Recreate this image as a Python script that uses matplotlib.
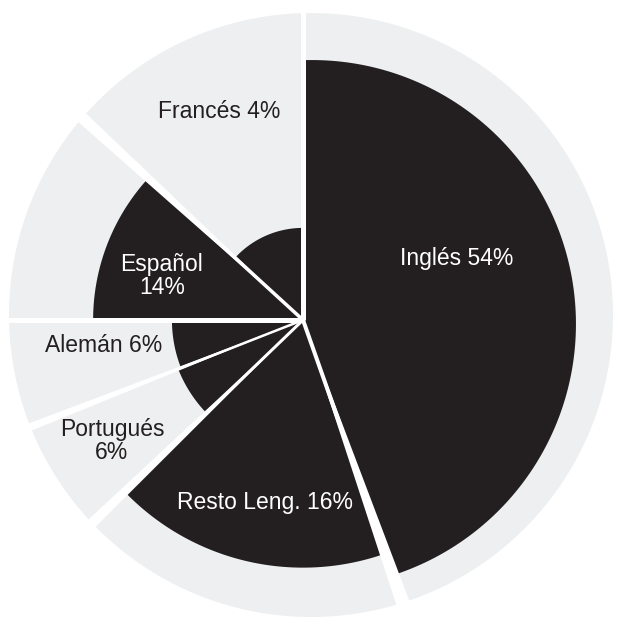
import numpy as np
import matplotlib
matplotlib.use("Agg")
import matplotlib.pyplot as plt
from matplotlib.patches import Polygon, Wedge

# slices, clockwise from 12 o'clock
languages = ["Inglés", "Resto Leng.", "Portugués", "Alemán", "Español", "Francés"]
percent = [54, 16, 6, 6, 14, 4]
# angular share of the circle (%)
share = [44.6, 18.2, 6.25, 5.95, 11.8, 13.2]
# depth of the dark inner wedge, as a fraction of the full radius
depth = [0.874, 0.82, 0.444, 0.434, 0.695, 0.305]

LIGHT = "#eeeff0"
DARK = "#231f20"

W, H = 618, 624
cx, cy = 303, H - 320          # where all slices meet
R = 302
ring_c = (311, H - 315)        # outer rim is drawn a bit off the hub
# arc centre shift for the dark part of each slice (px, y up)
dark_shift = [(9, -4), (0, 0), (0, 0), (0, 0), (0, 0), (0, 0)]

# label layout (pixel positions from top-left), two-line flag
label_pos = [(457, 258), (265, 502), (112, 441), (104, 345), (162, 276), (219, 112)]
two_lines = [False, False, True, False, True, False]

# separators between neighbouring slices: (angular gap in deg, base width in px)
gap_style = [(2.6, 4), (2.0, 3), (1.5, 2.5), (0.0, 5), (2.2, 3.5), (0.0, 5)]


def arc_wedge(t1, t2, centre, radius):
    # wedge from the hub whose outer edge follows a circle around `centre`
    th = np.deg2rad(np.linspace(t1, t2, 200))
    ox, oy = centre[0] - cx, centre[1] - cy
    pts = [(cx, cy)]
    for t in th:
        ux, uy = np.cos(t), np.sin(t)
        p = ux * ox + uy * oy
        dist = p + np.sqrt(radius ** 2 - (ox ** 2 + oy ** 2) + p ** 2)
        pts.append((cx + dist * ux, cy + dist * uy))
    return np.array(pts)


fig = plt.figure(figsize=(W / 100, H / 100), dpi=100)
ax = fig.add_axes([0, 0, 1, 1])
ax.set_xlim(0, W)
ax.set_ylim(0, H)
ax.axis("off")

start = 90.0
bounds = []
for name, p, s, d, sh, pos, two in zip(languages, percent, share, depth, dark_shift,
                                       label_pos, two_lines):
    span = s / 100.0 * 360.0
    t1, t2 = start - span, start
    ax.add_patch(Polygon(arc_wedge(t1, t2, ring_c, R), closed=True,
                         facecolor=LIGHT, edgecolor="none"))
    ax.add_patch(Polygon(arc_wedge(t1, t2, (cx + sh[0], cy + sh[1]), R * d), closed=True,
                         facecolor=DARK, edgecolor="none"))
    bounds.append(t1)
    start = t1

    # text sits on dark when it lies inside the dark wedge
    px, py = pos[0] - cx, (H - pos[1]) - cy
    inside = np.hypot(px, py) < R * d
    sep = "\n" if two else " "
    ax.text(pos[0], H - pos[1], f"{name}{sep}{p}%", ha="center", va="center",
            color="white" if inside else DARK, fontsize=16.5,
            family=["Liberation Sans", "DejaVu Sans"], linespacing=1.05)

# white separators
for b, (g, w) in zip(bounds, gap_style):
    if g > 0:
        ax.add_patch(Wedge((cx, cy), R + 25, b - g / 2, b + g / 2,
                           facecolor="white", edgecolor="none"))
    a = np.deg2rad(b)
    ax.plot([cx, cx + (R + 25) * np.cos(a)], [cy, cy + (R + 25) * np.sin(a)],
            color="white", lw=w * 0.72, solid_capstyle="butt")

fig.savefig("out.png", dpi=100, facecolor="white")
